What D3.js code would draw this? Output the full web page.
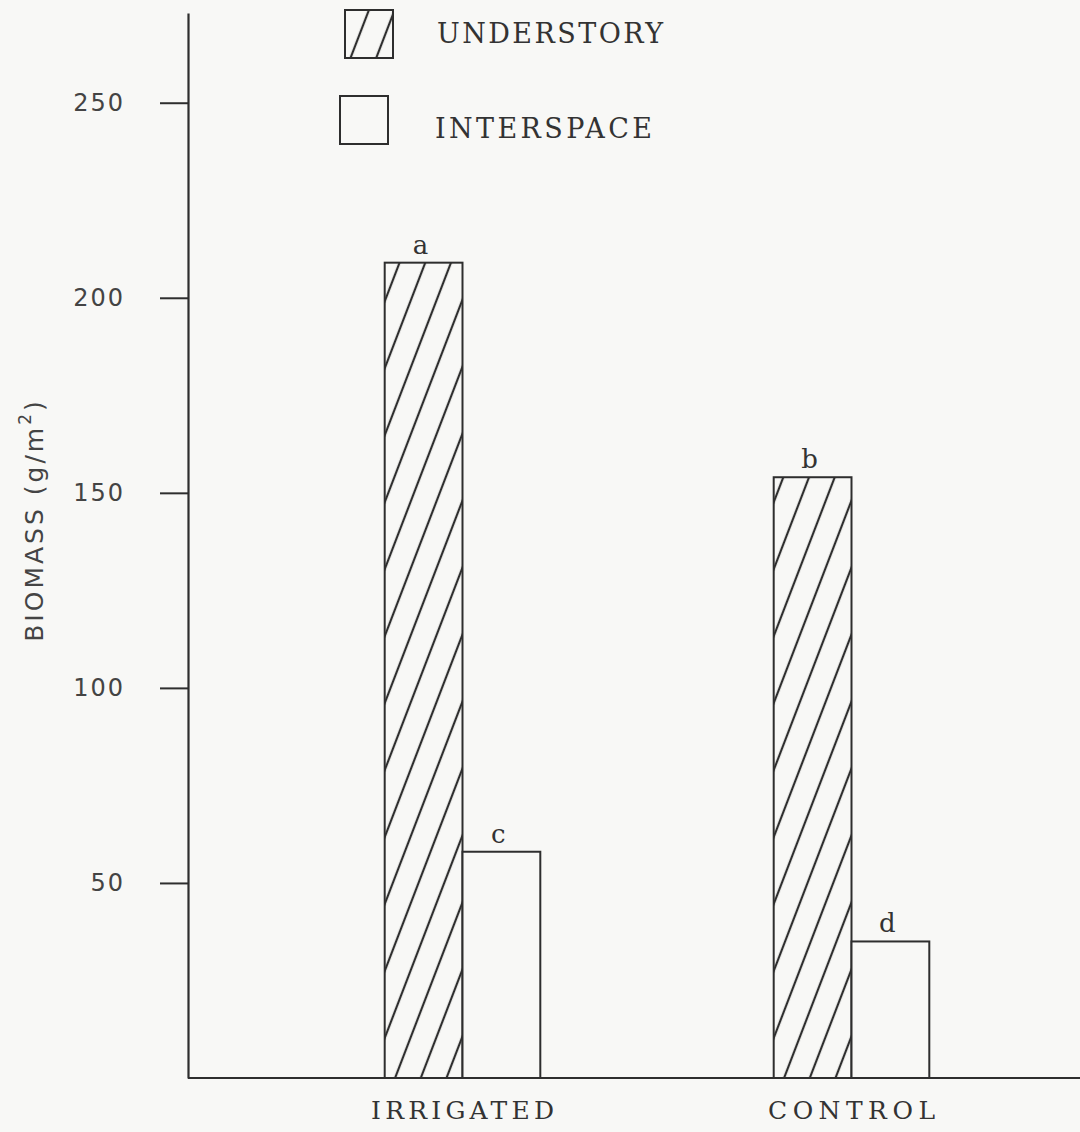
<!DOCTYPE html>
<html>
<head>
<meta charset="utf-8">
<script src="https://cdn.jsdelivr.net/npm/d3@7/dist/d3.min.js"></script>
<style>
  html, body { margin: 0; padding: 0; background: #f8f8f6; }
  svg { display: block; }
</style>
</head>
<body>
<script>
// Above-ground biomass by treatment and microsite
const categories = ["IRRIGATED", "CONTROL"];
const seriesKeys = ["UNDERSTORY", "INTERSPACE"];
const understory = [209, 154];
const interspace = [58, 35];
const letters = { UNDERSTORY: ["a", "b"], INTERSPACE: ["c", "d"] };
const yTicks = [50, 100, 150, 200, 250];

const W = 1080, H = 1132;
const ink = "#2e2e2e";
const paper = "#f8f8f6";
const serif = "DejaVu Serif, serif";
const margin = { left: 188, right: 0, top: 13, bottom: 54 };

const svg = d3.select("body").append("svg")
  .attr("width", W).attr("height", H);

// diagonal "/" hatch used for the understory bars and its legend key
const defs = svg.append("defs");
const hatch = defs.append("pattern")
  .attr("id", "hatch")
  .attr("patternUnits", "userSpaceOnUse")
  .attr("width", 24).attr("height", 24)
  .attr("patternTransform", "rotate(21)");
hatch.append("rect").attr("width", 24).attr("height", 24).attr("fill", paper);
hatch.append("line")
  .attr("x1", 12).attr("y1", 0).attr("x2", 12).attr("y2", 24)
  .attr("stroke", ink).attr("stroke-width", 2.2);

const rows = categories.map((c, i) => ({
  category: c,
  UNDERSTORY: understory[i],
  INTERSPACE: interspace[i]
}));

const y = d3.scaleLinear().domain([0, 273]).range([H - margin.bottom, margin.top]);

const x0 = d3.scaleBand().domain(categories)
  .range([268, 1046]).paddingInner(0.6).paddingOuter(0.3);
const x1 = d3.scaleBand().domain(seriesKeys).range([0, x0.bandwidth()]);

const barData = d => seriesKeys.map(k => ({
  key: k, value: d[k], idx: categories.indexOf(d.category)
}));

// bars
const groups = svg.append("g").selectAll("g").data(rows).join("g")
  .attr("transform", d => `translate(${x0(d.category)},0)`);

groups.selectAll("rect")
  .data(barData)
  .join("rect")
  .attr("x", d => x1(d.key))
  .attr("y", d => y(d.value))
  .attr("width", x1.bandwidth())
  .attr("height", d => y(0) - y(d.value))
  .attr("fill", d => d.key === "UNDERSTORY" ? "url(#hatch)" : paper)
  .attr("stroke", ink)
  .attr("stroke-width", 2);

// significance letters above each bar
groups.selectAll("text.sig")
  .data(barData)
  .join("text")
  .attr("class", "sig")
  .attr("x", d => x1(d.key) + x1.bandwidth() / 2 - 3)
  .attr("y", d => y(d.value) - 9)
  .attr("text-anchor", "middle")
  .attr("font-family", serif)
  .attr("font-size", 26)
  .attr("fill", "#333")
  .text(d => letters[d.key][d.idx]);

// y axis
const yAxis = svg.append("g")
  .attr("transform", `translate(${margin.left},0)`)
  .call(d3.axisLeft(y).tickValues(yTicks).tickSize(28).tickSizeOuter(0).tickPadding(35));
yAxis.select(".domain").attr("stroke", ink).attr("stroke-width", 2.2);
yAxis.selectAll(".tick line").attr("stroke", ink).attr("stroke-width", 2);
yAxis.selectAll(".tick text")
  .attr("font-family", "DejaVu Sans, sans-serif")
  .attr("font-size", 24)
  .attr("letter-spacing", 2)
  .attr("fill", "#444");

// baseline
svg.append("line")
  .attr("x1", margin.left).attr("x2", W - margin.right)
  .attr("y1", y(0)).attr("y2", y(0))
  .attr("stroke", ink).attr("stroke-width", 2.2);

// category labels
const xAxis = svg.append("g")
  .attr("transform", `translate(0,${y(0)})`)
  .call(d3.axisBottom(x0).tickSize(0).tickPadding(23));
xAxis.select(".domain").remove();
xAxis.selectAll(".tick text")
  .attr("font-family", serif)
  .attr("font-size", 25)
  .attr("fill", "#333")
  .attr("textLength", d => d === "IRRIGATED" ? 183 : 167)
  .attr("lengthAdjust", "spacing");

// y axis title
const yTitle = svg.append("text")
  .attr("transform", "translate(43,520) rotate(-90)")
  .attr("text-anchor", "middle")
  .attr("font-family", "DejaVu Sans, sans-serif")
  .attr("font-size", 25)
  .attr("letter-spacing", 3)
  .attr("fill", "#444");
yTitle.append("tspan").text("BIOMASS (g/m");
yTitle.append("tspan").attr("dy", -12).attr("font-size", 17).text("2");
yTitle.append("tspan").attr("dy", 12).text(")");

// legend
const legend = svg.append("g");
const legendRows = [
  { key: "UNDERSTORY", fill: "url(#hatch)", bx: 345, by: 10, tx: 437, ty: 43, len: 226 },
  { key: "INTERSPACE", fill: paper, bx: 340, by: 96, tx: 435, ty: 138, len: 217 }
];
legend.selectAll("rect").data(legendRows).join("rect")
  .attr("x", d => d.bx).attr("y", d => d.by)
  .attr("width", 48).attr("height", 48)
  .attr("fill", d => d.fill)
  .attr("stroke", ink).attr("stroke-width", 2);
legend.selectAll("text").data(legendRows).join("text")
  .attr("x", d => d.tx).attr("y", d => d.ty)
  .attr("font-family", serif)
  .attr("font-size", 27)
  .attr("fill", "#333")
  .attr("textLength", d => d.len)
  .attr("lengthAdjust", "spacing")
  .text(d => d.key);
</script>
</body>
</html>
